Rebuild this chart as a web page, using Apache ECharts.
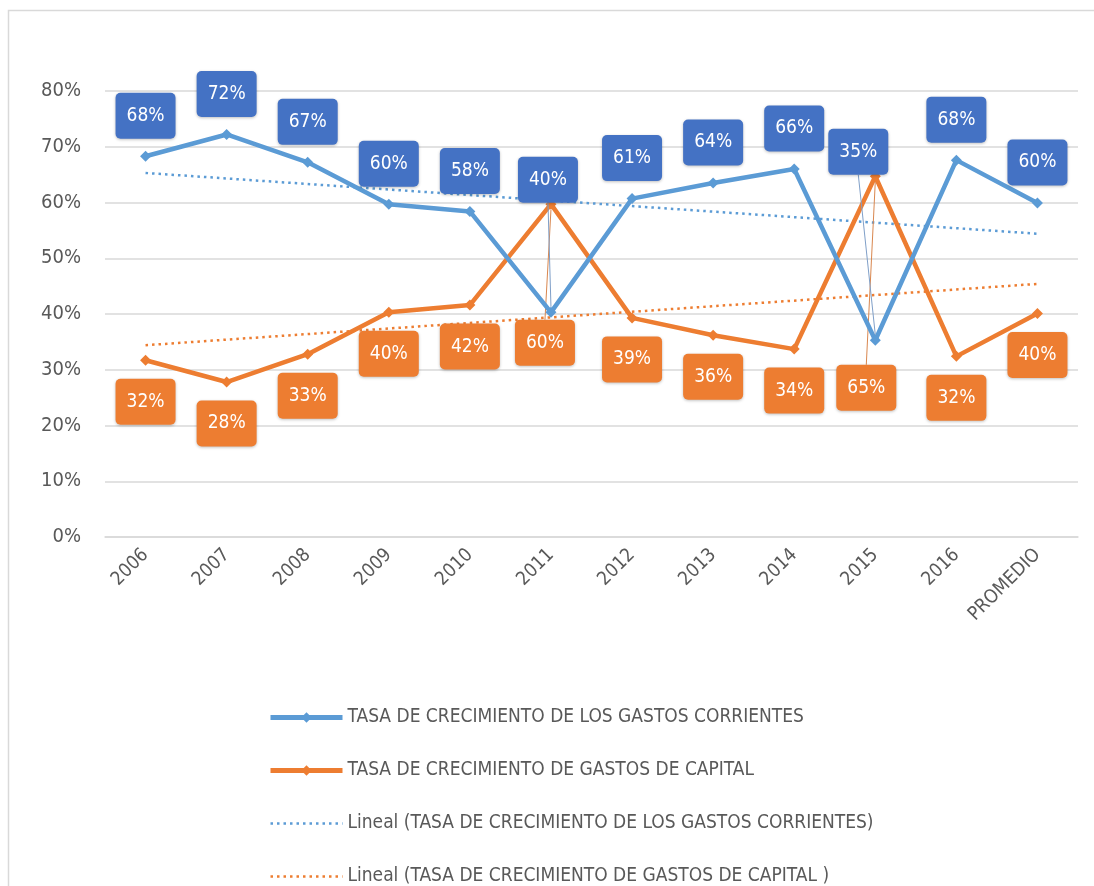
<!DOCTYPE html>
<html>
<head>
<meta charset="utf-8">
<script src="https://cdn.jsdelivr.net/npm/echarts@6/dist/echarts.min.js"></script>
<style>
html,body{margin:0;padding:0;background:#fff;}
#chart{width:1094px;height:886px;}
</style>
</head>
<body>
<div id="chart"></div>
<script>
// ---- data ----
const categories = ['2006','2007','2008','2009','2010','2011','2012','2013','2014','2015','2016','PROMEDIO'];
const gastosCorrientes = [68.3, 72.2, 67.2, 59.7, 58.4, 40.3, 60.7, 63.5, 66.0, 35.3, 67.6, 59.9];
const gastosCapital    = [31.7, 27.8, 32.8, 40.3, 41.6, 59.7, 39.3, 36.2, 33.7, 64.7, 32.4, 40.1];
// linear trend lines: values read at first and last category
const trendCorrientes = [65.3, null, null, null, null, null, null, null, null, null, null, 54.4];
const trendCapital    = [34.4, null, null, null, null, null, null, null, null, null, null, 45.4];
const yTicks = [0, 10, 20, 30, 40, 50, 60, 70, 80];

const seriesNames = [
  'TASA DE CRECIMIENTO DE LOS GASTOS CORRIENTES',
  'TASA DE CRECIMIENTO DE GASTOS DE CAPITAL',
  'Lineal (TASA DE CRECIMIENTO DE LOS GASTOS CORRIENTES)',
  'Lineal (TASA DE CRECIMIENTO DE GASTOS DE CAPITAL )'
];

const BLUE = '#5B9BD5', BLUE_LBL = '#4472C4', ORANGE = '#ED7D31';
const FONT = "'DejaVu Sans Condensed', 'Liberation Sans Narrow', sans-serif";

// label displacement (pixels) for labels moved away from their points
const labelMoves = {
  0: {5: [-3, -92], 9: [-17, -148]},
  1: {5: [-6, 97], 9: [-9, 170]}
};

function buildData(values, seriesIndex) {
  return values.map((v, i) => {
    const moved = labelMoves[seriesIndex] && labelMoves[seriesIndex][i];
    return moved ? {value: v, labelLine: {show: true}} : {value: v};
  });
}

function labelBox(bg, pos, dist) {
  return {
    show: true,
    position: pos,
    distance: dist,
    formatter: p => Math.round(p.value) + '%',
    color: '#FFFFFF',
    fontFamily: FONT,
    fontSize: 19,
    backgroundColor: bg,
    borderRadius: 5,
    width: 38,
    height: 20,
    lineHeight: 20,
    align: 'center',
    padding: [13, 11],
    shadowColor: 'rgba(0,0,0,0.25)',
    shadowBlur: 3,
    shadowOffsetY: 1
  };
}

const chart = echarts.init(document.getElementById('chart'), null, {renderer: 'canvas'});

chart.setOption({
  backgroundColor: '#ffffff',
  animation: false,
  graphic: [{
    type: 'rect',
    shape: {x: 8.5, y: 10.5, width: 1100, height: 900},
    style: {fill: 'none', stroke: '#d9d9d9', lineWidth: 1.5},
    silent: true, z: -10
  }],
  grid: {left: 105, right: 16, top: 91, bottom: 349, containLabel: false},
  legend: {
    orient: 'vertical',
    left: 263,
    top: 703,
    height: 183,
    itemWidth: 72,
    itemHeight: 13,
    itemGap: 34,
    textStyle: {fontFamily: FONT, fontSize: 19, color: '#595959'},
    data: [
      {name: seriesNames[0], lineStyle: {width: 5}},
      {name: seriesNames[1], lineStyle: {width: 5}},
      {name: seriesNames[2], itemStyle: {opacity: 0}, lineStyle: {width: 2.5}},
      {name: seriesNames[3], itemStyle: {opacity: 0}, lineStyle: {width: 2.5}}
    ]
  },
  xAxis: {
    type: 'category',
    data: categories,
    boundaryGap: true,
    axisLine: {show: true, lineStyle: {color: '#d9d9d9', width: 1.5}},
    axisTick: {show: false},
    axisLabel: {rotate: 45, margin: 15, fontFamily: FONT, fontSize: 19, color: '#595959', interval: 0}
  },
  yAxis: {
    type: 'value',
    min: yTicks[0],
    max: yTicks[yTicks.length - 1],
    interval: 10,
    axisLine: {show: false},
    axisTick: {show: false},
    splitLine: {lineStyle: {color: '#d9d9d9', width: 1.5}},
    axisLabel: {margin: 24, fontFamily: FONT, fontSize: 20, color: '#595959', formatter: v => v + '%'}
  },
  series: [
    {
      name: seriesNames[0], type: 'line', data: buildData(gastosCorrientes, 0),
      color: BLUE, lineStyle: {width: 4.5, color: BLUE},
      symbol: 'diamond', symbolSize: 11, itemStyle: {color: BLUE},
      label: labelBox(BLUE_LBL, 'top', 12),
      labelLine: {show: false, lineStyle: {width: 1, color: '#7f9fc8'}},
      labelLayout: p => { const m = labelMoves[0][p.dataIndex]; return m ? {dx: m[0], dy: m[1]} : {}; },
      z: 5
    },
    {
      name: seriesNames[1], type: 'line', data: buildData(gastosCapital, 1),
      color: ORANGE, lineStyle: {width: 4.5, color: ORANGE},
      symbol: 'diamond', symbolSize: 11, itemStyle: {color: ORANGE},
      label: labelBox(ORANGE, 'bottom', 13),
      labelLine: {show: false, lineStyle: {width: 1, color: '#d9874f'}},
      labelLayout: p => { const m = labelMoves[1][p.dataIndex]; return m ? {dx: m[0], dy: m[1]} : {}; },
      z: 4
    },
    {
      name: seriesNames[2], type: 'line', data: trendCorrientes, connectNulls: true,
      color: BLUE, symbol: 'none',
      lineStyle: {width: 2.5, color: BLUE, type: [2.5, 4], cap: 'butt'},
      z: 2
    },
    {
      name: seriesNames[3], type: 'line', data: trendCapital, connectNulls: true,
      color: ORANGE, symbol: 'none',
      lineStyle: {width: 2.5, color: ORANGE, type: [2.5, 4], cap: 'butt'},
      z: 2
    }
  ]
});
</script>
</body>
</html>
